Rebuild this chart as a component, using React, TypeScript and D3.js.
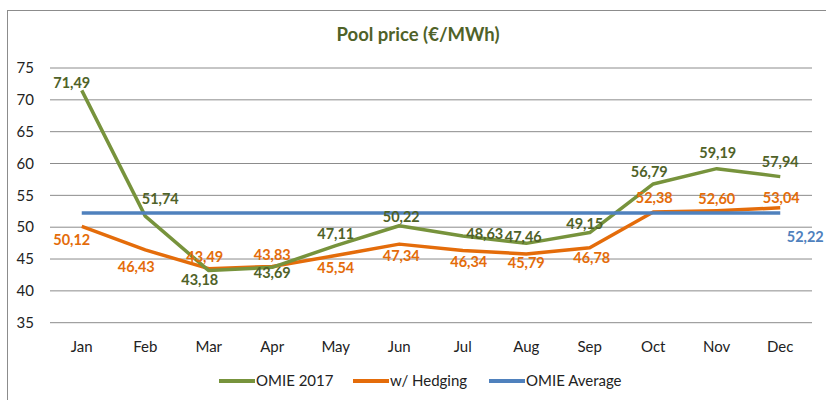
import React from "react";
import * as d3 from "d3";

const months = ["Jan", "Feb", "Mar", "Apr", "May", "Jun", "Jul", "Aug", "Sep", "Oct", "Nov", "Dec"];
const omie2017 = [71.49, 51.74, 43.18, 43.69, 47.11, 50.22, 48.63, 47.46, 49.15, 56.79, 59.19, 57.94];
const hedging = [50.12, 46.43, 43.49, 43.83, 45.54, 47.34, 46.34, 45.79, 46.78, 52.38, 52.6, 53.04];
const omieAverage = 52.22;
const yTicks = [35, 40, 45, 50, 55, 60, 65, 70, 75];
const seriesNames = ["OMIE 2017", "w/ Hedging", "OMIE Average"];
const title = "Pool price (€/MWh)";

// label placement offsets (style, relative to computed point)
const greenDx = [-10, 15, -9, 0, 0, 2, 22, -3, -5, -4, 1, 0];
const greenDy = [-7, -17, 9, 6, -12, -9, -2, -6, -9, -12, -16, -15];
const orangeDx = [-10, -9, -4, 0, 0, 2, 6, 0, 2, 1, 0, 1];
const orangeDy = [14, 17, -12, -12, 12, 12, 11, 9, 10, -14, -12, -10];

const fmt = (v: number) => v.toFixed(2).replace(".", ",");

export default function App() {
  const W = 826, H = 400;
  const x = d3.scaleBand<string>().domain(months).range([50, 812]);
  const y = d3.scaleLinear().domain([35, 75]).range([322.7, 68]);
  const cx = (m: string) => (x(m) as number) + x.bandwidth() / 2;
  const line = d3.line<number>().x((_, i) => cx(months[i])).y((d) => y(d));
  const font = "Lato, 'Open Sans', sans-serif";
  const green = "#77933C", greenText = "#4F6228", orange = "#E46C0A", blue = "#4F81BD";
  const legend = [
    { name: seriesNames[0], color: green, x: 219 },
    { name: seriesNames[1], color: orange, x: 353 },
    { name: seriesNames[2], color: blue, x: 489 },
  ];
  return (
    <svg width={W} height={H} style={{ position: "absolute", left: 0, top: 0, background: "#fff" }} fontFamily={font}>
      <rect x={7.5} y={10.5} width={830} height={400} fill="#fff" stroke="#8c8c8c" strokeWidth={1} />
      <text x={418} y={41} textAnchor="middle" fontSize={18.5} fontWeight="bold" fill={greenText}>{title}</text>
      {yTicks.map((t) => (
        <g key={t}>
          <line x1={50} x2={812} y1={y(t)} y2={y(t)} stroke="#8c8c8c" strokeWidth={1} />
          <text x={34} y={y(t)} dy="0.35em" textAnchor="end" fontSize={15} fill="#222">{t}</text>
        </g>
      ))}
      {months.map((m) => (
        <text key={m} x={cx(m)} y={347} dy="0.35em" textAnchor="middle" fontSize={15} fill="#222">{m}</text>
      ))}
      <path d={line(hedging) as string} fill="none" stroke={orange} strokeWidth={3.5} strokeLinejoin="round" />
      <path d={line(omie2017) as string} fill="none" stroke={green} strokeWidth={3.5} strokeLinejoin="round" />
      <line x1={cx(months[0])} x2={cx(months[11])} y1={y(omieAverage)} y2={y(omieAverage)} stroke={blue} strokeWidth={3.5} />
      {omie2017.map((v, i) => (
        <text key={"g" + i} x={cx(months[i]) + greenDx[i]} y={y(v) + greenDy[i]} dy="0.35em" textAnchor="middle" fontSize={14.5} fontWeight="bold" fill={greenText}>{fmt(v)}</text>
      ))}
      {hedging.map((v, i) => (
        <text key={"o" + i} x={cx(months[i]) + orangeDx[i]} y={y(v) + orangeDy[i]} dy="0.35em" textAnchor="middle" fontSize={14.5} fontWeight="bold" fill={orange}>{fmt(v)}</text>
      ))}
      <text x={cx(months[11]) + 25} y={y(omieAverage) + 24} dy="0.35em" textAnchor="middle" fontSize={14.5} fontWeight="bold" fill={blue}>{fmt(omieAverage)}</text>
      {legend.map((l) => (
        <g key={l.name}>
          <line x1={l.x} x2={l.x + 36} y1={381} y2={381} stroke={l.color} strokeWidth={4} />
          <text x={l.x + 37} y={381} dy="0.35em" fontSize={15} fill="#222">{l.name}</text>
        </g>
      ))}
    </svg>
  );
}
